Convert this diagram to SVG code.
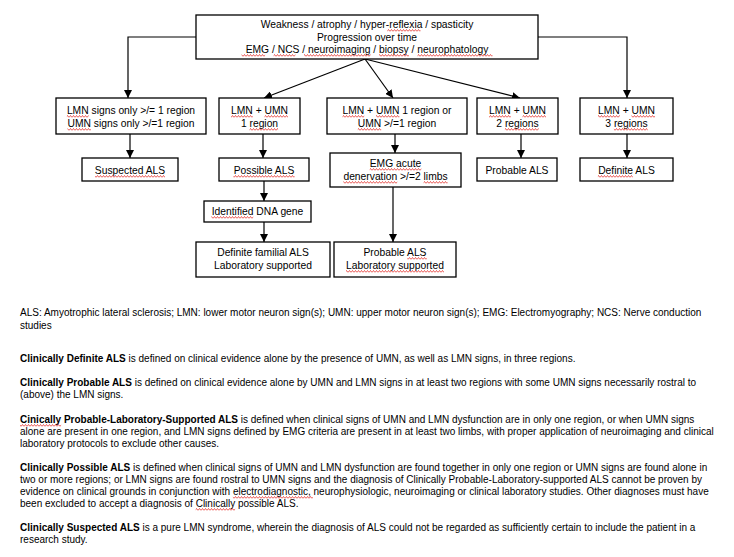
<svg xmlns="http://www.w3.org/2000/svg" width="734" height="557" viewBox="0 0 734 557">
<style>
.box{fill:#fff;stroke:#000;stroke-width:1.3}
.bt{font-family:"Liberation Sans",Arial,sans-serif;font-size:10.3px;fill:#000;text-anchor:middle}
.ft{font-family:"Liberation Sans",Arial,sans-serif;font-size:10px;fill:#000}
.ft tspan.b{font-weight:bold}
.con{fill:none;stroke:#000;stroke-width:1.2}
.wp{fill:none;stroke:#e3342f;stroke-width:0.8}
</style>
<defs>
<marker id="ah" viewBox="0 0 10 10" refX="10" refY="5" markerWidth="8" markerHeight="8" markerUnits="userSpaceOnUse" orient="auto">
<path d="M0,0 L10,5 L0,10 z" fill="#000"/>
</marker>
<pattern id="w0" patternUnits="userSpaceOnUse" x="0" y="0" width="3" height="3"><path class="wp" d="M0,2.5 L1.5,0.5 L3,2.5"/></pattern>
<pattern id="w1" patternUnits="userSpaceOnUse" x="0" y="1" width="3" height="3"><path class="wp" d="M0,2.5 L1.5,0.5 L3,2.5"/></pattern>
<pattern id="w2" patternUnits="userSpaceOnUse" x="0" y="2" width="3" height="3"><path class="wp" d="M0,2.5 L1.5,0.5 L3,2.5"/></pattern>
</defs>
<rect width="734" height="557" fill="#fff"/>
<g id="connectors">
<path class="con" d="M196,37 H128 V98" marker-end="url(#ah)"/>
<path class="con" d="M538,37 H627 V98" marker-end="url(#ah)"/>
<path class="con" d="M365,59 L264,98" marker-end="url(#ah)"/>
<path class="con" d="M365,59 L393,98" marker-end="url(#ah)"/>
<path class="con" d="M365,59 L520,98" marker-end="url(#ah)"/>
<path class="con" d="M130,134 V158" marker-end="url(#ah)"/>
<path class="con" d="M263,134 V158" marker-end="url(#ah)"/>
<path class="con" d="M395,134 V153" marker-end="url(#ah)"/>
<path class="con" d="M521,134 V158" marker-end="url(#ah)"/>
<path class="con" d="M627,134 V158" marker-end="url(#ah)"/>
<path class="con" d="M264,181 V201" marker-end="url(#ah)"/>
<path class="con" d="M264,222 V242" marker-end="url(#ah)"/>
<path class="con" d="M393,187 V242" marker-end="url(#ah)"/>
</g>
<g id="top">
<rect class="box" x="196" y="15" width="342" height="44"/>
<text class="bt" x="367" y="28">Weakness / atrophy / hyper-reflexia / spasticity</text>
<text class="bt" x="367" y="41">Progression over time</text>
<text class="bt" x="367" y="53">EMG / NCS / neuroimaging / biopsy / neurophatology</text>
</g>
<g id="b1">
<rect class="box" x="56" y="98" width="150" height="36"/>
<text class="bt" x="131" y="114">LMN signs only &gt;/= 1 region</text>
<text class="bt" x="131" y="127">UMN signs only &gt;/=1 region</text>
</g>
<g id="b2">
<rect class="box" x="219" y="98" width="81" height="36"/>
<text class="bt" x="259.5" y="114">LMN + UMN</text>
<text class="bt" x="259.5" y="127">1 region</text>
</g>
<g id="b3">
<rect class="box" x="327" y="98" width="140" height="36"/>
<text class="bt" x="397" y="114">LMN + UMN 1 region or</text>
<text class="bt" x="397" y="127">UMN &gt;/=1 region</text>
</g>
<g id="b4">
<rect class="box" x="477" y="98" width="81" height="36"/>
<text class="bt" x="517.5" y="114">LMN + UMN</text>
<text class="bt" x="517.5" y="127">2 regions</text>
</g>
<g id="b5">
<rect class="box" x="580" y="98" width="93" height="36"/>
<text class="bt" x="626.5" y="114">LMN + UMN</text>
<text class="bt" x="626.5" y="127">3 regions</text>
</g>
<g id="suspected">
<rect class="box" x="82" y="158" width="96" height="23"/>
<text class="bt" x="130" y="173.5">Suspected ALS</text>
</g>
<g id="possible">
<rect class="box" x="219" y="158" width="90" height="23"/>
<text class="bt" x="264" y="173.5">Possible ALS</text>
</g>
<g id="emg">
<rect class="box" x="330" y="153" width="131" height="34"/>
<text class="bt" x="395.5" y="167">EMG acute</text>
<text class="bt" x="395.5" y="180">denervation &gt;/=2 limbs</text>
</g>
<g id="probable">
<rect class="box" x="477" y="158" width="80" height="23"/>
<text class="bt" x="517" y="173.5">Probable ALS</text>
</g>
<g id="definite">
<rect class="box" x="580" y="158" width="93" height="23"/>
<text class="bt" x="626.5" y="173.5">Definite ALS</text>
</g>
<g id="dna">
<rect class="box" x="204" y="201" width="107" height="21"/>
<text class="bt" x="257.5" y="215">Identified DNA gene</text>
</g>
<g id="familial">
<rect class="box" x="196" y="242" width="134" height="35"/>
<text class="bt" x="263" y="256">Definite familial ALS</text>
<text class="bt" x="263" y="269">Laboratory supported</text>
</g>
<g id="problab">
<rect class="box" x="334" y="242" width="122" height="35"/>
<text class="bt" x="395" y="256">Probable ALS</text>
<text class="bt" x="395" y="269">Laboratory supported</text>
</g>
<g id="notes">
<text class="ft" x="20" y="316">ALS: Amyotrophic lateral sclerosis; LMN: lower motor neuron sign(s); UMN: upper motor neuron sign(s); EMG: Electromyography; NCS: Nerve conduction</text>
<text class="ft" x="20" y="329">studies</text>
<text class="ft" x="20" y="362"><tspan class="b">Clinically Definite ALS</tspan> is defined on clinical evidence alone by the presence of UMN, as well as LMN signs, in three regions.</text>
<text class="ft" x="20" y="386"><tspan class="b">Clinically Probable ALS</tspan> is defined on clinical evidence alone by UMN and LMN signs in at least two regions with some UMN signs necessarily rostral to</text>
<text class="ft" x="20" y="398">(above) the LMN signs.</text>
<text class="ft" x="20" y="423"><tspan class="b">Cinically Probable-Laboratory-Supported ALS</tspan> is defined when clinical signs of UMN and LMN dysfunction are in only one region, or when UMN signs</text>
<text class="ft" x="20" y="435">alone are present in one region, and LMN signs defined by EMG criteria are present in at least two limbs, with proper application of neuroimaging and clinical</text>
<text class="ft" x="20" y="447">laboratory protocols to exclude other causes.</text>
<text class="ft" x="20" y="471"><tspan class="b">Clinically Possible ALS</tspan> is defined when clinical signs of UMN and LMN dysfunction are found together in only one region or UMN signs are found alone in</text>
<text class="ft" x="20" y="483">two or more regions; or LMN signs are found rostral to UMN signs and the diagnosis of Clinically Probable-Laboratory-supported ALS cannot be proven by</text>
<text class="ft" x="20" y="495">evidence on clinical grounds in conjunction with electrodiagnostic, neurophysiologic, neuroimaging or clinical laboratory studies. Other diagnoses must have</text>
<text class="ft" x="20" y="507">been excluded to accept a diagnosis of Clinically possible ALS.</text>
<text class="ft" x="20" y="531"><tspan class="b">Clinically Suspected ALS</tspan> is a pure LMN syndrome, wherein the diagnosis of ALS could not be regarded as sufficiently certain to include the patient in a</text>
<text class="ft" x="20" y="543">research study.</text>
</g>
<g id="spellcheck">
<rect x="387.3" y="29" width="33.2" height="3" fill="url(#w2)"/>
<rect x="241.6" y="54" width="23.5" height="3" fill="url(#w0)"/>
<rect x="273.6" y="54" width="21.8" height="3" fill="url(#w0)"/>
<rect x="304" y="54" width="66.5" height="3" fill="url(#w0)"/>
<rect x="379.1" y="54" width="29.8" height="3" fill="url(#w0)"/>
<rect x="417.5" y="54" width="75" height="3" fill="url(#w0)"/>
<rect x="66.9" y="115" width="21.7" height="3" fill="url(#w1)"/>
<rect x="67.5" y="128" width="23.4" height="3" fill="url(#w2)"/>
<rect x="231" y="115" width="21.8" height="3" fill="url(#w1)"/>
<rect x="264.5" y="115" width="23.5" height="3" fill="url(#w1)"/>
<rect x="249.5" y="128" width="28.6" height="3" fill="url(#w2)"/>
<rect x="342.5" y="115" width="21.7" height="3" fill="url(#w1)"/>
<rect x="376" y="115" width="23.4" height="3" fill="url(#w1)"/>
<rect x="357.8" y="128" width="23.4" height="3" fill="url(#w2)"/>
<rect x="489" y="115" width="21.8" height="3" fill="url(#w1)"/>
<rect x="522.5" y="115" width="23.5" height="3" fill="url(#w1)"/>
<rect x="504.9" y="128" width="33.8" height="3" fill="url(#w2)"/>
<rect x="598" y="115" width="21.8" height="3" fill="url(#w1)"/>
<rect x="631.5" y="115" width="23.5" height="3" fill="url(#w1)"/>
<rect x="613.9" y="128" width="33.8" height="3" fill="url(#w2)"/>
<rect x="95" y="175" width="70" height="3" fill="url(#w1)"/>
<rect x="233.4" y="175" width="61.2" height="3" fill="url(#w1)"/>
<rect x="369.7" y="168" width="51.6" height="3" fill="url(#w0)"/>
<rect x="343.4" y="181" width="53.8" height="3" fill="url(#w1)"/>
<rect x="423.6" y="181" width="24" height="3" fill="url(#w1)"/>
<rect x="597.9" y="175" width="34.9" height="3" fill="url(#w1)"/>
<rect x="211.4" y="216" width="41.8" height="3" fill="url(#w0)"/>
<rect x="407.3" y="257" width="19.5" height="3" fill="url(#w2)"/>
<rect x="346" y="270" width="98" height="3" fill="url(#w0)"/>
<rect x="20" y="424" width="41.1" height="3" fill="url(#w1)"/>
<rect x="232.9" y="496" width="80" height="3" fill="url(#w1)"/>
<rect x="195.7" y="508" width="39.4" height="3" fill="url(#w1)"/>
</g>
</svg>
